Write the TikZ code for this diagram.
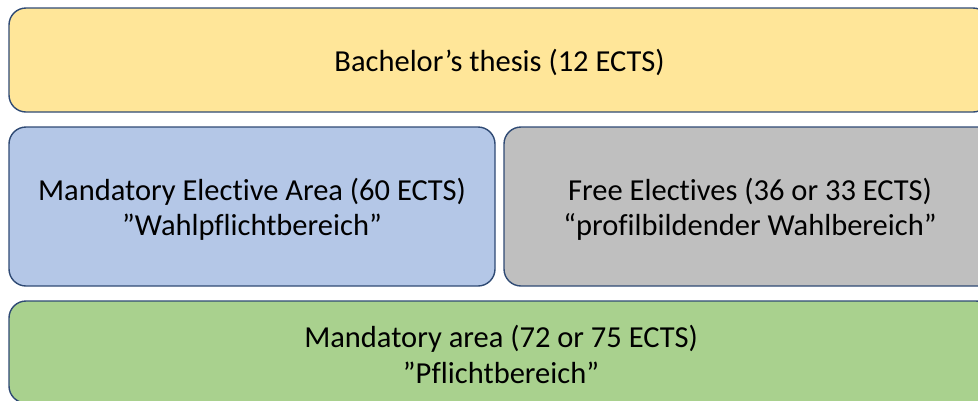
\documentclass[tikz,border=0pt]{standalone}
\usepackage{fontspec}
\setmainfont[Ligatures=CommonOff]{Carlito}
\definecolor{edge}{HTML}{2F4A74}
\definecolor{fyellow}{HTML}{FFE699}
\definecolor{fblue}{HTML}{B4C7E7}
\definecolor{fgrey}{HTML}{BFBFBF}
\definecolor{fgreen}{HTML}{A9D18E}
\tikzset{
  area/.style={draw=edge, line width=1.4pt, rounded corners=17pt, inner sep=0pt},
  txt/.style={align=center, inner sep=0pt, font=\fontsize{30.5}{35.5}\selectfont, text=black}
}
\begin{document}
\begin{tikzpicture}[x=1pt,y=-1pt]
\useasboundingbox (0,0) rectangle (978,400);
\clip (0,0) rectangle (978,400);
\node[area, fill=fyellow, minimum width=981pt, minimum height=104pt] (thesis) at (499.5,60) {};
\node[area, fill=fblue, minimum width=486pt, minimum height=159pt] (wpb) at (252,206.5) {};
\node[area, fill=fgrey, minimum width=492pt, minimum height=159pt] (free) at (750,206.5) {};
\node[area, fill=fgreen, minimum width=984pt, minimum height=102pt] (pb) at (501,352) {};
\node[txt] (thesist) at ([yshift=-2pt]thesis.center) {Bachelor’s thesis (12 ECTS)};
\node[txt] (wpbt) at ([yshift=-3pt]wpb.center) {Mandatory Elective Area (60 ECTS)\\”Wahlpflichtbereich”};
\node[txt] (freet) at ([yshift=-3pt]free.center) {Free Electives (36 or 33 ECTS)\\“profilbildender Wahlbereich”};
\node[txt] (pbt) at ([yshift=-2.5pt]pb.center) {Mandatory area (72 or 75 ECTS)\\”Pflichtbereich”};
\end{tikzpicture}
\end{document}
